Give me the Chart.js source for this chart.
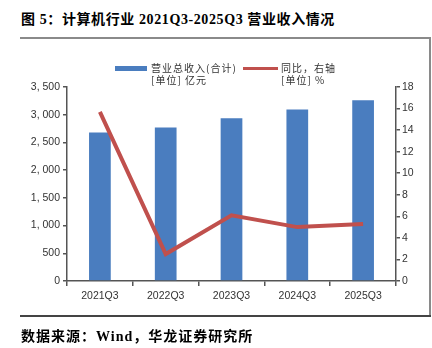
<!DOCTYPE html>
<html>
<head>
<meta charset="utf-8">
<script src="https://cdn.jsdelivr.net/npm/chart.js@4"></script>
<style>
  html, body { margin: 0; padding: 0; background: #fff; }
  #wrap { position: relative; width: 432px; height: 348px; overflow: hidden; }
  #chartBox { position: absolute; left: 0; top: 0; width: 432px; height: 348px; }
  .txt { position: absolute; white-space: nowrap; color: #000; }
  .title { left: 21px; top: 8px; font: bold 14px "Liberation Serif", "Noto Sans CJK SC", serif; letter-spacing: 0.6px; }
  .foot { left: 21px; top: 325px; font: bold 14px "Liberation Serif", "Noto Sans CJK SC", serif; letter-spacing: 1px; }
  .leg { font: 10px "Noto Sans CJK SC", sans-serif; color: #333; line-height: 12px; letter-spacing: 1px; }
  .hline { position: absolute; background: #8a8a8a; }
</style>
</head>
<body>
<div id="wrap">
  <div class="txt title">图 5：计算机行业 2021Q3-2025Q3 营业收入情况</div>
  <div class="hline" style="left:20px;top:37px;width:411px;height:2px;"></div>
  <div class="hline" style="left:429px;top:37px;width:1.5px;height:280px;"></div>
  <div class="hline" style="left:20px;top:315px;width:411px;height:1.5px;background:#444;"></div>
  <div id="chartBox"><canvas id="myChart" width="432" height="348"></canvas></div>
  <div class="hline" style="left:115px;top:66px;width:32px;height:5px;background:#4a7dbf;"></div>
  <div class="txt leg" style="left:151px;top:62px;">营业总收入(合计)</div>
  <div class="txt leg" style="left:151px;top:74px;">[单位] 亿元</div>
  <div class="hline" style="left:243px;top:67px;width:35px;height:3px;background:#c0504d;"></div>
  <div class="txt leg" style="left:281px;top:62px;">同比，右轴</div>
  <div class="txt leg" style="left:281px;top:74px;">[单位] %</div>
  <div class="txt foot">数据来源：Wind，华龙证券研究所</div>
</div>
<script>
// Datos del gráfico
const categorias = ['2021Q3', '2022Q3', '2023Q3', '2024Q3', '2025Q3'];
const ingresos = [2680, 2770, 2937, 3094, 3261];   // 亿元
const yoy = [15.7, 2.5, 6.1, 5.0, 5.3];             // %
const ticksIzq = [0, 500, 1000, 1500, 2000, 2500, 3000, 3500];
const ticksDer = [0, 2, 4, 6, 8, 10, 12, 14, 16, 18];

const ctx = document.getElementById('myChart').getContext('2d');
const ejeColor = '#555';
const tickFont = { family: 'Liberation Sans, Arial, sans-serif', size: 10.5 };

function formatoMiles(v) {
    return String(v).replace(/\B(?=(\d{3})+(?!\d))/g, ', ');
}

new Chart(ctx, {
    data: {
        labels: categorias,
        datasets: [{
            type: 'line',
            data: yoy,
            yAxisID: 'y1',
            borderColor: '#c0504d',
            borderWidth: 4,
            pointRadius: 0,
            tension: 0,
            order: 0
        }, {
            type: 'bar',
            data: ingresos,
            yAxisID: 'y',
            backgroundColor: '#4a7dbf',
            categoryPercentage: 1,
            barPercentage: 0.33,
            order: 1
        }]
    },
    options: {
        responsive: false,
        animation: false,
        devicePixelRatio: 1,
        layout: { padding: { top: 87, left: 0, right: 0, bottom: 0 } },
        plugins: { legend: { display: false }, tooltip: { enabled: false } },
        scales: {
            x: {
                offset: true,
                grid: { offset: true, drawOnChartArea: false, tickLength: 5, color: ejeColor, lineWidth: 1.5 },
                border: { color: ejeColor, width: 1.5 },
                ticks: { font: tickFont, color: '#333', padding: 4, maxRotation: 0 },
                afterFit: s => { s.height = 67; }
            },
            y: {
                position: 'left',
                min: 0, max: 3500,
                afterBuildTicks: s => { s.ticks = ticksIzq.map(v => ({ value: v })); },
                grid: { drawOnChartArea: false, tickLength: 4, color: ejeColor, lineWidth: 1.5 },
                border: { color: ejeColor, width: 1.5 },
                ticks: { font: tickFont, color: '#333', padding: 3, callback: v => formatoMiles(v) },
                afterFit: s => { s.width = 67; }
            },
            y1: {
                position: 'right',
                min: 0, max: 18,
                afterBuildTicks: s => { s.ticks = ticksDer.map(v => ({ value: v })); },
                grid: { drawOnChartArea: false, tickLength: 4, color: ejeColor, lineWidth: 1.5 },
                border: { color: ejeColor, width: 1.5 },
                ticks: { font: tickFont, color: '#333', padding: 2 },
                afterFit: s => { s.width = 36; }
            }
        }
    }
});
</script>
</body>
</html>
